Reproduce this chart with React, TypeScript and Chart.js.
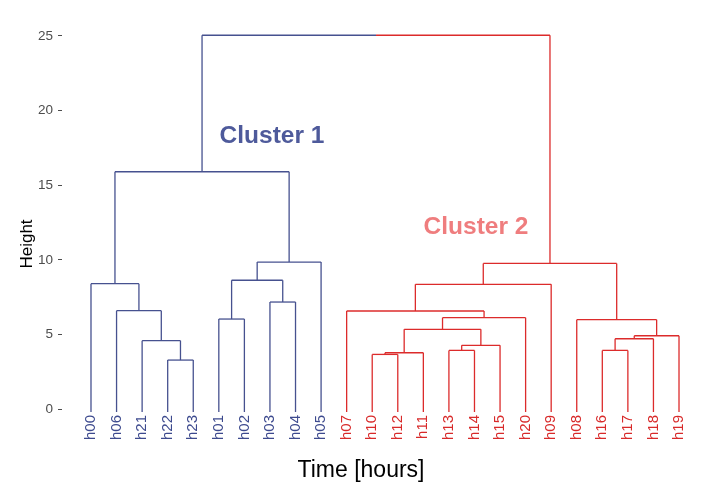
import { useEffect, useRef } from "react";
import { Chart, registerables } from "chart.js";

Chart.register(...registerables);

// ---- data ----
const leaves = [
  "h00", "h06", "h21", "h22", "h23", "h01", "h02", "h03", "h04", "h05",
  "h07", "h10", "h12", "h11", "h13", "h14", "h15", "h20", "h09",
  "h08", "h16", "h17", "h18", "h19",
];
const leafCluster = [1, 1, 1, 1, 1, 1, 1, 1, 1, 1, 2, 2, 2, 2, 2, 2, 2, 2, 2, 2, 2, 2, 2, 2];

// merges: m1 .. m23 (left child, right child, height)
const mergeLeft = [
  "h22", "h21", "h06", "h00", "h01", "h03", "m5", "m7", "m4",
  "h10", "m10", "h13", "m12", "m11", "m14", "h07", "m16",
  "h16", "m18", "m19", "h08", "m17", "m9",
];
const mergeRight = [
  "h23", "m1", "m2", "m3", "h02", "h04", "m6", "h05", "m8",
  "h12", "h11", "h14", "h15", "m13", "h20", "m15", "h09",
  "h17", "h18", "h19", "m20", "m21", "m22",
];
const mergeHeight = [
  3.28, 4.58, 6.59, 8.4, 6.03, 7.17, 8.63, 9.85, 15.9,
  3.66, 3.77, 3.93, 4.27, 5.34, 6.12, 6.57, 8.36,
  3.93, 4.71, 4.91, 5.99, 9.76, 25.05,
];

const yTicks = [0, 5, 10, 15, 20, 25];
const clusterNames = ["Cluster 1", "Cluster 2"];
const clusterLabelX = [7.08, 15.06];
const clusterLabelY = [18.43, 12.33];

// ---- styles ----
const FONT = "'Liberation Sans', Arial, sans-serif";
const lineColors: Record<number, string> = { 1: "#46518f", 2: "#dc2b2b" };
const tickLabelColors: Record<number, string> = { 1: "#3d4a8e", 2: "#d82a2a" };
const clusterTextColors = ["#4e5a9b", "#ef7d7e"];
const Y_MIN = -0.2;
const Y_MAX = 26.34;
const X_MIN = -1.134;
const X_MAX = 24.134;

type Seg = { x1: number; y1: number; x2: number; y2: number; c: number };

function buildSegments(): Seg[] {
  const pos: Record<string, { x: number; y: number; c: number }> = {};
  leaves.forEach((n, i) => {
    pos[n] = { x: i, y: Y_MIN, c: leafCluster[i] };
  });
  const segs: Seg[] = [];
  mergeHeight.forEach((h, k) => {
    const a = pos[mergeLeft[k]];
    const b = pos[mergeRight[k]];
    const c = a.c === b.c ? a.c : 0;
    const mid = (a.x + b.x) / 2;
    segs.push({ x1: a.x, y1: a.y, x2: a.x, y2: h, c: a.c });
    segs.push({ x1: b.x, y1: b.y, x2: b.x, y2: h, c: b.c });
    if (c) {
      segs.push({ x1: a.x, y1: h, x2: b.x, y2: h, c });
    } else {
      segs.push({ x1: a.x, y1: h, x2: mid, y2: h, c: a.c });
      segs.push({ x1: mid, y1: h, x2: b.x, y2: h, c: b.c });
    }
    pos["m" + (k + 1)] = { x: mid, y: h, c };
  });
  return segs;
}

const textPlugin = {
  id: "dendroText",
  afterDraw(chart: any) {
    const ctx = chart.ctx as CanvasRenderingContext2D;
    const xs = chart.scales.x;
    const ys = chart.scales.y;
    ctx.save();
    // cluster labels
    clusterNames.forEach((t, i) => {
      const size = 24.5;
      ctx.font = `bold ${size}px ${FONT}`;
      ctx.fillStyle = clusterTextColors[i];
      ctx.textAlign = "center";
      ctx.textBaseline = "alphabetic";
      const px = xs.getPixelForValue(clusterLabelX[i]);
      const py = ys.getPixelForValue(clusterLabelY[i]);
      ctx.fillText(t, px, py + 0.358 * size);
    });
    // x axis title
    ctx.font = `23px ${FONT}`;
    ctx.fillStyle = "#000";
    ctx.textAlign = "center";
    ctx.textBaseline = "alphabetic";
    ctx.fillText("Time [hours]", 361, 477);
    // y axis title
    ctx.translate(27, 244);
    ctx.rotate(-Math.PI / 2);
    ctx.font = `17px ${FONT}`;
    ctx.textAlign = "center";
    ctx.textBaseline = "middle";
    ctx.fillText("Height", 0, 0);
    ctx.restore();
  },
};

export default function App() {
  const ref = useRef<HTMLCanvasElement | null>(null);
  useEffect(() => {
    if (!ref.current) return;
    const segs = buildSegments();
    const datasets = segs.map((s) => ({
      data: [
        { x: s.x1, y: s.y1 },
        { x: s.x2, y: s.y2 },
      ],
      showLine: true,
      borderColor: lineColors[s.c],
      borderWidth: 1.3,
      pointRadius: 0,
      pointHoverRadius: 0,
      fill: false,
    }));
    const chart = new Chart(ref.current, {
      type: "scatter",
      data: { datasets },
      plugins: [textPlugin],
      options: {
        animation: false,
        responsive: false,
        devicePixelRatio: 1,
        layout: { padding: { top: 16, left: 0, right: 0, bottom: 0 } },
        plugins: { legend: { display: false }, tooltip: { enabled: false } },
        events: [],
        scales: {
          x: {
            type: "linear",
            min: X_MIN,
            max: X_MAX,
            afterBuildTicks: (s: any) => {
              s.ticks = leaves.map((_, i) => ({ value: i }));
            },
            afterFit: (s: any) => {
              s.height = 84;
            },
            grid: { display: false, drawTicks: false },
            border: { display: false },
            ticks: {
              autoSkip: false,
              maxRotation: 90,
              minRotation: 90,
              padding: 3,
              font: { size: 15, family: FONT },
              color: (c: any) => tickLabelColors[leafCluster[c.index]],
              callback: (_v: any, i: number) => leaves[i],
            },
          },
          y: {
            type: "linear",
            min: Y_MIN,
            max: Y_MAX,
            afterBuildTicks: (s: any) => {
              s.ticks = yTicks.map((v) => ({ value: v }));
            },
            afterFit: (s: any) => {
              s.width = 62;
            },
            grid: {
              display: true,
              drawOnChartArea: false,
              drawTicks: true,
              tickLength: 4,
              color: "#4d4d4d",
              tickWidth: 1,
            },
            border: { display: false },
            ticks: {
              padding: 5,
              color: "#4d4d4d",
              font: { size: 13.5, family: FONT },
              callback: (v: any) => String(v),
            },
          },
        },
      },
    } as any);
    return () => chart.destroy();
  }, []);
  return (
    <div style={{ position: "fixed", left: 0, top: 0, width: 708, height: 496, background: "#fff" }}>
      <canvas ref={ref} width={708} height={496} style={{ width: 708, height: 496 }} />
    </div>
  );
}
